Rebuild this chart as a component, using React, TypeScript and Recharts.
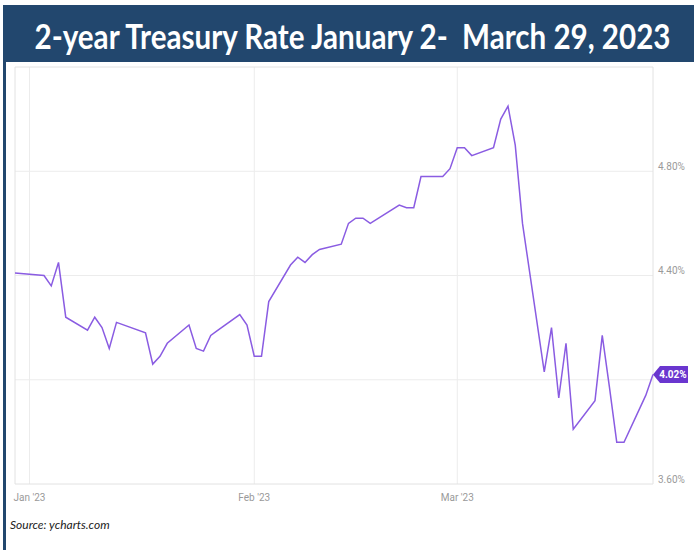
import React from 'react';
import { LineChart, Line, XAxis, YAxis, CartesianGrid, ReferenceArea } from 'recharts';

// trading days shown on the chart (last close before the window included)
const dates = [
  '2022-12-30', '2023-01-03', '2023-01-04', '2023-01-05', '2023-01-06',
  '2023-01-09', '2023-01-10', '2023-01-11', '2023-01-12', '2023-01-13',
  '2023-01-17', '2023-01-18', '2023-01-19', '2023-01-20', '2023-01-23',
  '2023-01-24', '2023-01-25', '2023-01-26', '2023-01-27', '2023-01-30',
  '2023-01-31', '2023-02-01', '2023-02-02', '2023-02-03', '2023-02-06',
  '2023-02-07', '2023-02-08', '2023-02-09', '2023-02-10', '2023-02-13',
  '2023-02-14', '2023-02-15', '2023-02-16', '2023-02-17', '2023-02-21',
  '2023-02-22', '2023-02-23', '2023-02-24', '2023-02-27', '2023-02-28',
  '2023-03-01', '2023-03-02', '2023-03-03', '2023-03-06', '2023-03-07',
  '2023-03-08', '2023-03-09', '2023-03-10', '2023-03-13', '2023-03-14',
  '2023-03-15', '2023-03-16', '2023-03-17', '2023-03-20', '2023-03-21',
  '2023-03-22', '2023-03-23', '2023-03-24', '2023-03-27', '2023-03-28',
];

const rates = [
  4.41, 4.40, 4.36, 4.45, 4.24,
  4.19, 4.24, 4.20, 4.12, 4.22,
  4.18, 4.06, 4.09, 4.14, 4.21,
  4.12, 4.11, 4.17, 4.19, 4.25,
  4.21, 4.09, 4.09, 4.30, 4.44,
  4.47, 4.45, 4.48, 4.50, 4.52,
  4.60, 4.62, 4.62, 4.60, 4.67,
  4.66, 4.66, 4.78, 4.78, 4.81,
  4.89, 4.89, 4.86, 4.89, 5.00,
  5.05, 4.90, 4.60, 4.03, 4.20,
  3.93, 4.14, 3.81, 3.92, 4.17,
  3.97, 3.76, 3.76, 3.94, 4.02,
];

const monthTicks = ['2023-01-01', '2023-02-01', '2023-03-01'];
const monthLabels = ["Jan '23", "Feb '23", "Mar '23"];
const rateTicks = [3.6, 4.4, 4.8];
const gridRates = [4.0, 4.4, 4.8];
const rateDomain = [3.6, 5.2];

const toTs = (d: string) => Date.parse(d + 'T00:00:00Z');
const data = dates.map((d, i) => ({ t: toTs(d), rate: rates[i] }));
const monthTs = monthTicks.map(toTs);
const xDomain = [data[0].t, data[data.length - 1].t];

const navy = '#22476e';
const lineColor = '#8a5ce2';
const badgeColor = '#6a36cf';

function MonthTick({ x, y, payload }: any) {
  const i = monthTs.indexOf(payload.value);
  const cx = payload.coordinate ?? x;
  return (
    <text x={cx} y={y + 1} textAnchor="middle" dominantBaseline="central"
      fontSize={10} fill="#9a9a9a" fontFamily="Roboto">
      {monthLabels[i]}
    </text>
  );
}

function RateTick({ x, y, payload }: any) {
  return (
    <text x={x} y={y - 5} textAnchor="start" dominantBaseline="central"
      fontSize={10} fill="#9a9a9a" fontFamily="Roboto">
      {payload.value.toFixed(2)}%
    </text>
  );
}

function LastBadge(props: any) {
  const { x, y, index, value } = props;
  if (index !== data.length - 1) return <g />;
  const pts = `${x},${y} ${x + 7},${y - 8.5} ${x + 35},${y - 8.5} ${x + 35},${y + 8.5} ${x + 7},${y + 8.5}`;
  return (
    <g>
      <polygon points={pts} fill={badgeColor} />
      <text x={x + 20} y={y} textAnchor="middle" dominantBaseline="central"
        fontSize={10} fontWeight={700} fill="#fff" fontFamily="Roboto">
        {Number(value).toFixed(2)}%
      </text>
    </g>
  );
}

export default function App() {
  return (
    <div style={{ position: 'absolute', left: 0, top: 0, width: 694, height: 550, background: '#fff', overflow: 'hidden' }}>
      <LineChart width={694} height={550} data={data}
        margin={{ top: 67, right: 0, left: 15, bottom: 46 }}>
        <CartesianGrid stroke="#ececec" horizontalValues={gridRates} verticalValues={monthTs} />
        <ReferenceArea x1={xDomain[0]} x2={xDomain[1]} y1={rateDomain[0]} y2={rateDomain[1]}
          fill="none" stroke="#e2e2e2" strokeWidth={1} />
        <XAxis dataKey="t" type="number" domain={xDomain} ticks={monthTs} interval={0}
          axisLine={false} tickLine={false} tickSize={0} tickMargin={12} height={20}
          tick={<MonthTick />} />
        <YAxis orientation="right" type="number" domain={rateDomain} ticks={rateTicks} interval={0}
          axisLine={false} tickLine={false} tickSize={0} tickMargin={5} width={41}
          tick={<RateTick />} />
        <Line type="linear" dataKey="rate" stroke={lineColor} strokeWidth={1.5}
          dot={false} isAnimationActive={false} label={<LastBadge />} />
      </LineChart>

      <div style={{ position: 'absolute', left: 4, top: 5, width: 690, height: 57, background: navy }}>
        <svg width={690} height={57}>
          <text transform="translate(348.5,44) scale(1,1.13)" x={0} y={0} textAnchor="middle"
            textLength={636} lengthAdjust="spacingAndGlyphs"
            fill="#fff" fontFamily="Lato" fontWeight={700} fontSize={30} style={{ whiteSpace: 'pre' }}>
            2-year Treasury Rate January 2-  March 29, 2023
          </text>
        </svg>
      </div>
      <div style={{ position: 'absolute', left: 3, top: 5, width: 3, height: 545, background: navy }} />
      <div style={{ position: 'absolute', left: 10, top: 517, fontFamily: 'Lato', fontStyle: 'italic', fontSize: 12, lineHeight: '16px', color: '#222' }}>
        Source: ycharts.com
      </div>
    </div>
  );
}
